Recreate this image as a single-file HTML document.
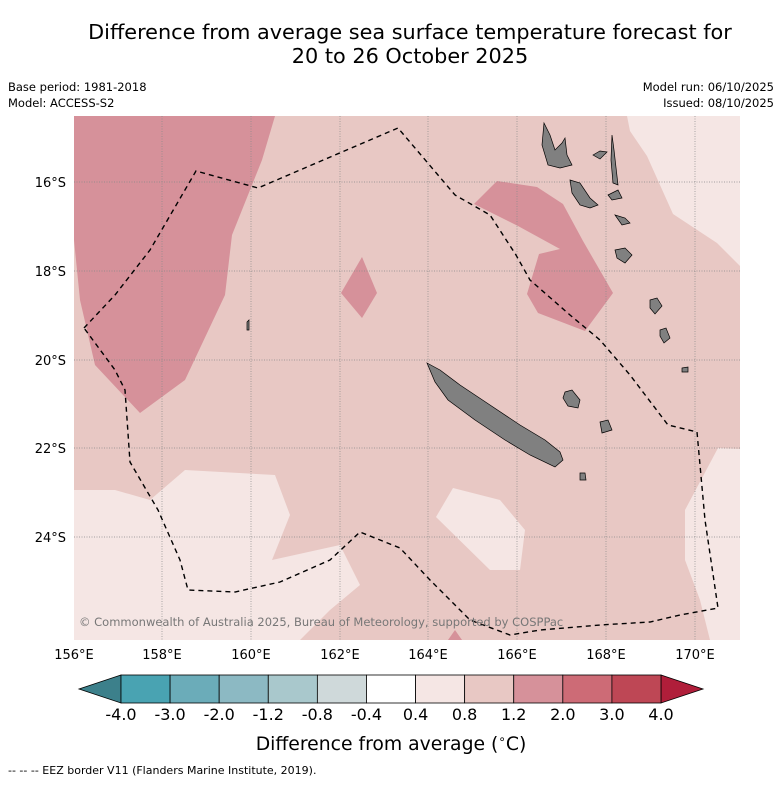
<!DOCTYPE html>
<html><head><meta charset="utf-8">
<style>
body{margin:0;background:#fff;font-family:"Liberation Sans","DejaVu Sans",sans-serif;}
svg text{font-family:"DejaVu Sans","Liberation Sans",sans-serif;}
</style></head>
<body>
<svg width="781" height="781" viewBox="0 0 781 781">
<text x="410" y="39" font-size="20.8" text-anchor="middle">Difference from average sea surface temperature forecast for</text>
<text x="410" y="63" font-size="20.8" text-anchor="middle">20 to 26 October 2025</text>
<text x="8" y="91" font-size="11.5">Base period: 1981-2018</text>
<text x="8" y="107" font-size="11.5">Model: ACCESS-S2</text>
<text x="774" y="91" font-size="11.5" text-anchor="end">Model run: 06/10/2025</text>
<text x="774" y="107" font-size="11.5" text-anchor="end">Issued: 08/10/2025</text>

<defs><clipPath id="mc"><rect x="74" y="116" width="666" height="524"/></clipPath></defs>
<g clip-path="url(#mc)">
<rect x="74" y="116" width="666" height="524" fill="#e8c8c4"/>
<g fill="#d6919a">
<polygon points="74,116 275,116 262,160 232,235 225,295 185,380 140,413 95,365 80,300 74,240"/>
<polygon points="362,257 377,293 362,318 341,293"/>
<polygon points="474,204 497,181 537,187 563,204 583,241 613,293 585,331 538,313 527,294 539,254 560,249 518,226"/>
<polygon points="448,640 455,630 462,640"/>
</g>
<g fill="#f5e6e4">
<polygon points="627,116 740,116 740,266 717,243 673,214 647,156 630,131"/>
<polygon points="718,448 740,449 740,640 710,640 700,600 685,560 685,510"/>
<polygon points="74,490 115,490 150,500 185,470 275,475 290,515 272,560 340,545 360,585 330,610 300,640 74,640"/>
<polygon points="453,488 500,500 525,530 520,570 490,570 436,517"/>
<polygon points="220,640 228,628 236,640"/>
</g>
<g stroke="#888" stroke-width="0.7" stroke-dasharray="1,1.5">
<line x1="162" y1="116" x2="162" y2="640"/><line x1="251" y1="116" x2="251" y2="640"/>
<line x1="340" y1="116" x2="340" y2="640"/><line x1="428" y1="116" x2="428" y2="640"/>
<line x1="517" y1="116" x2="517" y2="640"/><line x1="606" y1="116" x2="606" y2="640"/>
<line x1="695" y1="116" x2="695" y2="640"/>
<line x1="74" y1="182" x2="740" y2="182"/><line x1="74" y1="271" x2="740" y2="271"/>
<line x1="74" y1="360" x2="740" y2="360"/><line x1="74" y1="448" x2="740" y2="448"/>
<line x1="74" y1="537" x2="740" y2="537"/>
</g>
<g fill="#808080" stroke="#000" stroke-width="0.7">
<polygon points="427,363 440,370 460,385 490,405 520,425 545,440 560,452 563,460 555,467 530,455 505,440 475,420 448,400 435,382"/>
<polygon points="544,123 550,135 555,150 562,143 565,138 567,155 572,165 560,168 548,165 542,145"/>
<polygon points="570,180 580,183 590,198 598,205 590,208 580,205 572,193"/>
<polygon points="593,155 600,151 607,152 600,159"/>
<polygon points="612,135 614,150 618,185 613,183 611,160"/>
<polygon points="608,195 618,190 622,198 612,200"/>
<polygon points="615,215 625,218 630,223 622,225"/>
<polygon points="615,250 625,248 632,255 625,263 617,258"/>
<polygon points="650,300 657,298 662,306 655,314 650,308"/>
<polygon points="660,330 666,328 670,338 664,343 660,336"/>
<polygon points="682,368 688,367 688,372 682,372"/>
<polygon points="565,392 572,390 580,400 578,408 568,406 563,398"/>
<polygon points="600,422 608,420 612,430 602,433"/>
<polygon points="580,473 585,473 586,480 580,480"/>
<polygon points="247,322 249,320 249,330 247,330"/>
</g>
<polyline fill="none" stroke="#000" stroke-width="1.4" stroke-dasharray="5,4"
points="84,328 115,295 150,250 196,171 258,188 398,128 455,195 490,215 516,255 530,280 570,315 600,340 630,375 668,425 697,432 705,520 718,608 680,615 650,622 600,625 540,630 510,635 470,620 430,580 400,548 360,532 330,560 280,582 235,592 188,590 180,560 158,510 130,462 125,390 115,370 84,328"/>
<text x="79" y="626" font-size="11.5" fill="#777">© Commonwealth of Australia 2025, Bureau of Meteorology, supported by COSPPac</text>
</g>
<g font-size="13">
<text x="66" y="187" text-anchor="end">16°S</text><text x="66" y="276" text-anchor="end">18°S</text>
<text x="66" y="365" text-anchor="end">20°S</text><text x="66" y="453" text-anchor="end">22°S</text>
<text x="66" y="542" text-anchor="end">24°S</text>
</g>
<g font-size="13" text-anchor="middle">
<text x="74" y="659">156°E</text><text x="162" y="659">158°E</text><text x="251" y="659">160°E</text>
<text x="340" y="659">162°E</text><text x="428" y="659">164°E</text><text x="517" y="659">166°E</text>
<text x="606" y="659">168°E</text><text x="695" y="659">170°E</text>
</g>
<g id="cbar"></g>
<text x="391" y="750" font-size="18.8" text-anchor="middle">Difference from average (<tspan font-size="12" dy="-7">∘</tspan><tspan dy="7">C)</tspan></text>
<text x="8" y="774" font-size="11">--  --  -- EEZ border V11 (Flanders Marine Institute, 2019).</text>
</svg>
<script>
const levels=["-4.0","-3.0","-2.0","-1.2","-0.8","-0.4","0.4","0.8","1.2","2.0","3.0","4.0"];
const colors=["#49a3b2","#6bacb9","#8cb9c3","#a9c8cc","#cfd9da","#ffffff","#f5e6e4","#e8c8c4","#d6919a","#cd6b76","#be4755"];
const g=document.getElementById('cbar');const ns="http://www.w3.org/2000/svg";
const x0=121,x1=661,y0=675,h=28,w=(x1-x0)/colors.length;
function mk(t,a){const e=document.createElementNS(ns,t);for(const k in a)e.setAttribute(k,a[k]);g.appendChild(e);return e;}
let p=mk('polygon',{points:`${x0},${y0} ${79},${y0+h/2} ${x0},${y0+h}`,fill:'#3c808b',stroke:'#000','stroke-width':0.8});


p=mk('polygon',{points:`${x1},${y0} ${703},${y0+h/2} ${x1},${y0+h}`,fill:'#b01e3a',stroke:'#000','stroke-width':0.8});


colors.forEach((c,i)=>{const r=mk('rect',{x:x0+i*w,y:y0,width:w,height:h,fill:c,stroke:'#000','stroke-width':0.8});

});
levels.forEach((l,i)=>{const t=mk('text',{x:x0+i*w,y:720,'font-size':16,'text-anchor':'middle'});t.textContent=l;

});
</script>
</body></html>
